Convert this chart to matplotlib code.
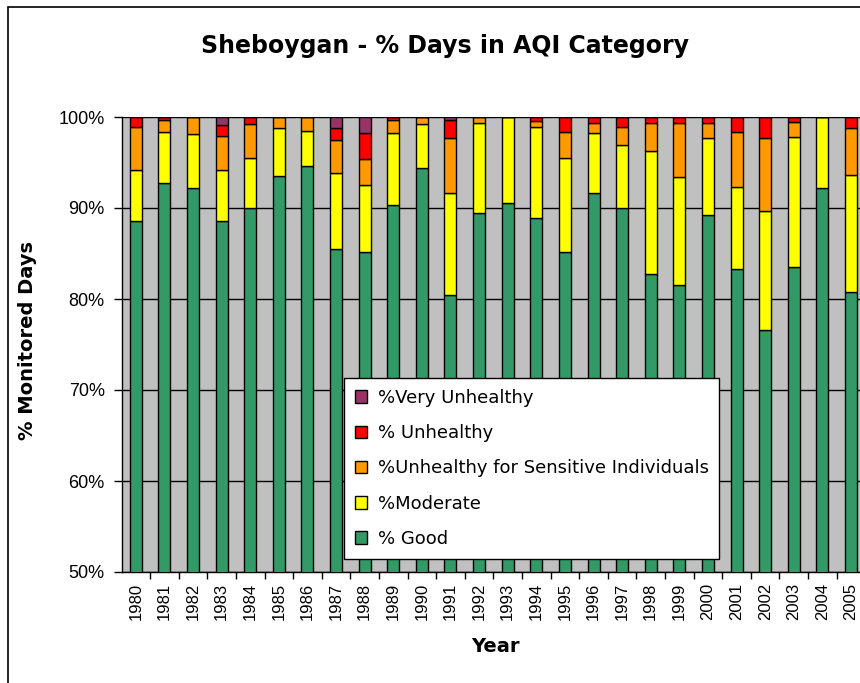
import numpy as np
import matplotlib
matplotlib.use("Agg")
import matplotlib.pyplot as plt
from matplotlib.patches import Rectangle, Patch
from matplotlib.ticker import FixedLocator

plt.rcParams['font.family'] = ['Liberation Sans', 'DejaVu Sans']

years = [str(y) for y in range(1980, 2006)]
good = [88.6, 92.7, 92.2, 88.6, 90.0, 93.5, 94.6, 85.5, 85.2, 90.3, 94.4, 80.4, 89.5,
        90.6, 88.9, 85.2, 91.6, 90.0, 82.7, 81.5, 89.2, 83.3, 76.6, 83.5, 92.2, 80.8]
moderate = [5.6, 5.6, 5.9, 5.6, 5.5, 5.3, 3.9, 8.3, 7.3, 7.9, 4.8, 11.2, 9.8,
            9.4, 10.0, 10.3, 6.6, 6.9, 13.6, 11.9, 8.5, 9.0, 13.1, 14.3, 7.8, 12.8]
usg = [4.7, 1.4, 1.9, 3.7, 3.7, 1.2, 1.5, 3.7, 2.9, 1.5, 0.8, 6.1, 0.7,
       0.0, 0.7, 2.8, 1.1, 2.0, 3.0, 5.9, 1.6, 6.0, 8.0, 1.6, 0.0, 5.2]
unhealthy = [1.1, 0.3, 0.0, 1.2, 0.8, 0.0, 0.0, 1.3, 2.8, 0.3, 0.0, 2.0, 0.0,
             0.0, 0.4, 1.7, 0.7, 1.1, 0.7, 0.7, 0.7, 1.7, 2.3, 0.6, 0.0, 1.2]
very_unhealthy = [0.0, 0.0, 0.0, 0.9, 0.0, 0.0, 0.0, 1.2, 1.8, 0.0, 0.0, 0.3, 0.0,
                  0.0, 0.0, 0.0, 0.0, 0.0, 0.0, 0.0, 0.0, 0.0, 0.0, 0.0, 0.0, 0.0]

series = [
    ('% Good', good, '#339966'),
    ('%Moderate', moderate, '#FFFF00'),
    ('%Unhealthy for Sensitive Individuals', usg, '#FF9900'),
    ('% Unhealthy', unhealthy, '#FF0000'),
    ('%Very Unhealthy', very_unhealthy, '#993366'),
]

W, H = 860, 683
fig = plt.figure(figsize=(W / 100, H / 100), dpi=100)

# outer chart border (cut off at right and bottom like the original)
fig.patches.append(Rectangle((8 / W, -0.05), 1.2, (H - 7) / H + 0.05,
                             transform=fig.transFigure, fill=False,
                             edgecolor='black', linewidth=1.2))

left, right, top, bottom = 121.5, 865.3, 117, 572
ax = fig.add_axes([left / W, (H - bottom) / H, (right - left) / W, (bottom - top) / H])
ax.set_facecolor('#C0C0C0')

x = np.arange(len(years))
base = np.zeros(len(years))
handles = []
for name, vals, col in series:
    vals = np.array(vals)
    ax.bar(x, vals, 0.42, bottom=base, color=col, edgecolor='black',
           linewidth=1.0, zorder=3)
    base = base + vals
    handles.append(Patch(facecolor=col, edgecolor='black', linewidth=1.0, label=name))

ax.set_xlim(-0.5, len(years) - 0.5)
ax.set_ylim(50, 100)
ax.set_yticks(range(50, 101, 10))
ax.set_yticklabels([f'{v}%' for v in range(50, 101, 10)], fontsize=13)
ax.yaxis.grid(True, color='black', linewidth=1.0, zorder=1)
ax.set_axisbelow(True)

ax.set_xticks(x)
ax.set_xticklabels(years, rotation=90, fontsize=12)
ax.tick_params(axis='x', length=0, pad=8)
ax.xaxis.set_minor_locator(FixedLocator(x[:-1] + 0.5))
ax.tick_params(axis='x', which='minor', length=5, width=1, direction='out')
ax.tick_params(axis='y', length=6, width=1, direction='out', pad=6)

for s in ['top', 'right']:
    ax.spines[s].set_visible(False)
ax.spines['left'].set_linewidth(1.0)
ax.spines['bottom'].set_linewidth(1.0)

bold = ['DejaVu Sans']
fig.text(445 / W, 1 - 46 / H, 'Sheboygan - % Days in AQI Category', ha='center',
         va='center', fontsize=17, fontweight='bold', family=bold)
fig.text(28 / W, 1 - 341 / H, '% Monitored Days', rotation=90, ha='center',
         va='center', fontsize=14, fontweight='bold', family=bold)
fig.text(495 / W, 1 - 647 / H, 'Year', ha='center', va='center',
         fontsize=14, fontweight='bold', family=bold)

leg = ax.legend(handles[::-1], [h.get_label() for h in handles[::-1]],
                loc='upper left',
                bbox_to_anchor=(344 / W, (H - 557.7) / H, 375 / W, 179.4 / H),
                bbox_transform=fig.transFigure, mode='expand',
                prop={'family': 'DejaVu Sans', 'size': 13}, frameon=True,
                fancybox=False, framealpha=1, edgecolor='black',
                handlelength=0.7, handleheight=0.7, handletextpad=0.6,
                labelspacing=0.95, borderpad=0.6, borderaxespad=0)
leg.get_frame().set_linewidth(1.0)
leg.set_zorder(5)

fig.savefig('out.png', dpi=100)
